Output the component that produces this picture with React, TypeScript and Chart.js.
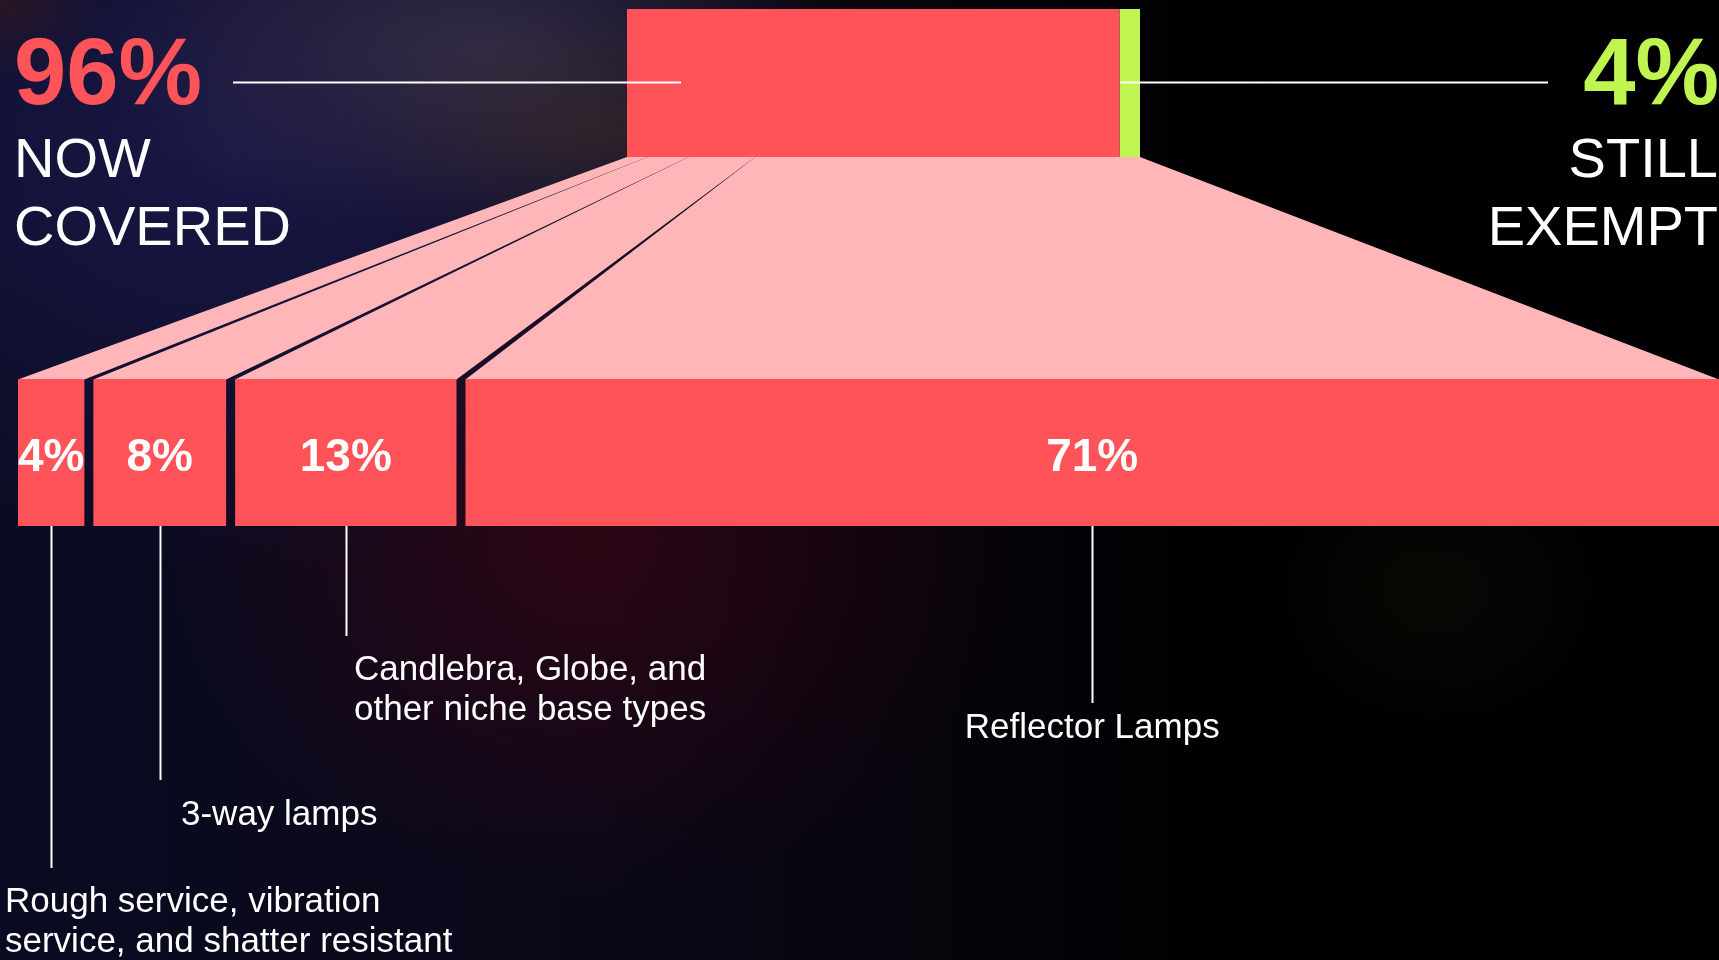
import React, { useEffect, useRef } from 'react';
import { Chart, registerables } from 'chart.js';

Chart.register(...registerables);

// ---------- data ----------
const rowLabels = ['All general service lamps', 'Covered lamp types'];
const topLabels = ['NOW COVERED', 'STILL EXEMPT'];
const topValues = [96, 4];
const segmentLabels = [
  'Rough service, vibration service, and shatter resistant',
  '3-way lamps',
  'Candlebra, Globe, and other niche base types',
  'Reflector Lamps',
];
const segmentCaptionLines = [
  ['Rough service, vibration', 'service, and shatter resistant'],
  ['3-way lamps'],
  ['Candlebra, Globe, and', 'other niche base types'],
  ['Reflector Lamps'],
];
const segmentValues = [4, 8, 13, 71];

// ---------- style / layout ----------
const RED = '#FF535A';
const GREEN = '#C0F450';
const PINK = '#FFB6B9';
const WHITE = '#FFFFFF';
const FONT = '"Liberation Sans", Arial, Helvetica, sans-serif';
const W = 1719;
const H = 960;
const GAP = 9;
const BAR_THICKNESS = 148;
const TOP_ROW_CENTER = 83;
const BOTTOM_ROW_CENTER = 452.5;
const TOP_BAR_LEFT = 627;
const TOP_BAR_RIGHT = 1140;
const CHART_LEFT = 18;

// caption placement (px): x / align, first baseline, leader-line end
const captionLayout = [
  { x: 5, align: 'left', baseline: 912, lineEnd: 868 },
  { x: 181, align: 'left', baseline: 825, lineEnd: 780 },
  { x: 354, align: 'left', baseline: 680, lineEnd: 636 },
  { x: null, align: 'center', baseline: 738, lineEnd: 703 },
];

const sum = (a: number[]) => a.reduce((s, v) => s + v, 0);

const infographicPlugin = {
  id: 'infographic',
  beforeDatasetsDraw(chart: any) {
    const ctx = chart.ctx;
    const xTop = chart.scales.xTop;
    const x = chart.scales.x;
    const topEl = chart.getDatasetMeta(0).data[0];
    const topBottomY = topEl.y + topEl.height / 2;
    const firstBottom = chart.getDatasetMeta(topValues.length).data[1];
    const botTopY = firstBottom.y - firstBottom.height / 2;
    const topTotal = sum(topValues);
    const n = segmentValues.length;
    let cum = 0;
    ctx.save();
    ctx.fillStyle = PINK;
    segmentValues.forEach((v, i) => {
      const a = cum;
      const b = cum + v;
      cum = b;
      const tl = xTop.getPixelForValue(a);
      const tr = xTop.getPixelForValue(i === n - 1 ? topTotal : b);
      const bl = x.getPixelForValue(a) + (i === 0 ? 0 : GAP / 2);
      const br = x.getPixelForValue(b) - (i === n - 1 ? 0 : GAP / 2);
      ctx.beginPath();
      ctx.moveTo(tl, topBottomY);
      ctx.lineTo(tr, topBottomY);
      ctx.lineTo(br, botTopY + 0.5);
      ctx.lineTo(bl, botTopY + 0.5);
      ctx.closePath();
      ctx.fill();
    });
    ctx.restore();
  },
  afterDatasetsDraw(chart: any) {
    const ctx = chart.ctx;
    const xTop = chart.scales.xTop;
    const x = chart.scales.x;
    const n = segmentValues.length;
    ctx.save();

    // headline texts
    const topEl = chart.getDatasetMeta(0).data[0];
    const cy = Math.round(topEl.y) - 0.5;
    ctx.textBaseline = 'alphabetic';
    ctx.font = `bold 94px ${FONT}`;
    ctx.fillStyle = RED;
    ctx.textAlign = 'left';
    ctx.fillText(`${topValues[0]}%`, 14, 104);
    ctx.fillStyle = GREEN;
    ctx.textAlign = 'right';
    ctx.fillText(`${topValues[1]}%`, 1719, 104);

    ctx.font = `56px ${FONT}`;
    ctx.fillStyle = WHITE;
    const leftWords = topLabels[0].split(' ');
    const rightWords = topLabels[1].split(' ');
    ctx.textAlign = 'left';
    leftWords.forEach((w, i) => ctx.fillText(w, 14, 177 + i * 68));
    ctx.textAlign = 'right';
    rightWords.forEach((w, i) => ctx.fillText(w, 1718, 177 + i * 68));

    // headline leader lines
    ctx.strokeStyle = WHITE;
    ctx.lineWidth = 2;
    ctx.beginPath();
    ctx.moveTo(233, cy);
    ctx.lineTo(681, cy);
    ctx.moveTo(xTop.getPixelForValue(topValues[0]) + 1, cy);
    ctx.lineTo(1548, cy);
    ctx.stroke();

    // segment labels, leader lines and captions
    let cum = 0;
    segmentValues.forEach((v, i) => {
      const a = cum;
      const b = cum + v;
      cum = b;
      const el = chart.getDatasetMeta(topValues.length + i).data[1];
      const l = x.getPixelForValue(a) + (i === 0 ? 0 : GAP / 2);
      const r = x.getPixelForValue(b) - (i === n - 1 ? 0 : GAP / 2);
      const cx = (l + r) / 2;
      const barBottom = el.y + el.height / 2;

      ctx.fillStyle = WHITE;
      ctx.font = `bold 46px ${FONT}`;
      ctx.textAlign = 'center';
      ctx.fillText(`${v}%`, cx, el.y + 18);

      const lay = captionLayout[i];
      const lx = Math.round(cx) + 0.5;
      ctx.strokeStyle = WHITE;
      ctx.lineWidth = 2;
      ctx.beginPath();
      ctx.moveTo(lx, barBottom);
      ctx.lineTo(lx, lay.lineEnd);
      ctx.stroke();

      ctx.font = `35px ${FONT}`;
      ctx.textAlign = lay.align as CanvasTextAlign;
      const tx = lay.x === null ? cx : lay.x;
      segmentCaptionLines[i].forEach((line, k) => {
        ctx.fillText(line, tx, lay.baseline + k * 40);
      });
    });
    ctx.restore();
  },
};

export default function App() {
  const canvasRef = useRef<HTMLCanvasElement | null>(null);

  useEffect(() => {
    const canvas = canvasRef.current;
    if (!canvas) return;
    const topTotal = sum(topValues);
    const bottomTotal = sum(segmentValues);
    const areaWidth = W - CHART_LEFT;
    const unitsPerPx = topTotal / (TOP_BAR_RIGHT - TOP_BAR_LEFT);
    const xTopMin = -(TOP_BAR_LEFT - CHART_LEFT) * unitsPerPx;
    const xTopMax = xTopMin + areaWidth * unitsPerPx;
    const n = segmentValues.length;

    const datasets: any[] = [
      ...topValues.map((v, i) => ({
        label: topLabels[i],
        data: [v, null],
        xAxisID: 'xTop',
        yAxisID: 'y',
        stack: 'all',
        backgroundColor: i === 0 ? RED : GREEN,
        borderWidth: 0,
        barThickness: BAR_THICKNESS,
        clip: false,
        inflateAmount: 0,
      })),
      ...segmentValues.map((v, i) => ({
        label: segmentLabels[i],
        data: [null, v],
        xAxisID: 'x',
        yAxisID: 'y',
        stack: 'all',
        backgroundColor: RED,
        borderColor: 'rgba(0,0,0,0)',
        borderWidth: {
          left: i === 0 ? 0 : GAP / 2,
          right: i === n - 1 ? 0 : GAP / 2,
          top: 0,
          bottom: 0,
        },
        borderSkipped: false,
        barThickness: BAR_THICKNESS - 1,
        clip: false,
        inflateAmount: 0,
      })),
    ];

    const chart = new Chart(canvas, {
      type: 'bar',
      data: { labels: rowLabels, datasets },
      options: {
        indexAxis: 'y',
        responsive: false,
        maintainAspectRatio: false,
        animation: false,
        devicePixelRatio: 1,
        events: [],
        layout: {
          padding: {
            top: TOP_ROW_CENTER,
            bottom: H - BOTTOM_ROW_CENTER,
            left: CHART_LEFT,
            right: 0,
          },
        },
        plugins: {
          legend: { display: false },
          tooltip: { enabled: false },
          title: { display: false },
        },
        scales: {
          y: { type: 'category', offset: false, display: false, stacked: true },
          x: { type: 'linear', min: 0, max: bottomTotal, display: false, stacked: true },
          xTop: { type: 'linear', axis: 'x', min: xTopMin, max: xTopMax, display: false, stacked: true },
        },
      } as any,
      plugins: [infographicPlugin],
    });
    return () => chart.destroy();
  }, []);

  const bg = [
    'radial-gradient(ellipse 240px 110px at 600px 130px, rgba(70,45,30,0.4), rgba(0,0,0,0))',
    'radial-gradient(ellipse 380px 190px at 480px 50px, rgba(60,52,74,0.75), rgba(0,0,0,0))',
    'radial-gradient(ellipse 560px 420px at 230px 150px, rgba(28,26,78,0.85), rgba(0,0,0,0))',
    'radial-gradient(ellipse 110px 80px at 0px 0px, rgba(60,22,0,0.8), rgba(0,0,0,0))',
    'radial-gradient(ellipse 420px 360px at 590px 540px, rgba(62,4,18,0.65), rgba(0,0,0,0))',
    'radial-gradient(ellipse 180px 150px at 1430px 590px, rgba(24,28,6,0.3), rgba(0,0,0,0))',
    'linear-gradient(90deg, #0a0b22 0%, #0a0818 35%, #060309 58%, #000000 72%, #010104 100%)',
  ].join(', ');

  return (
    <div
      style={{
        position: 'fixed',
        left: 0,
        top: 0,
        width: W,
        height: H,
        overflow: 'hidden',
        background: bg,
      }}
    >
      <canvas ref={canvasRef} width={W} height={H} style={{ display: 'block', width: W, height: H }} />
    </div>
  );
}
